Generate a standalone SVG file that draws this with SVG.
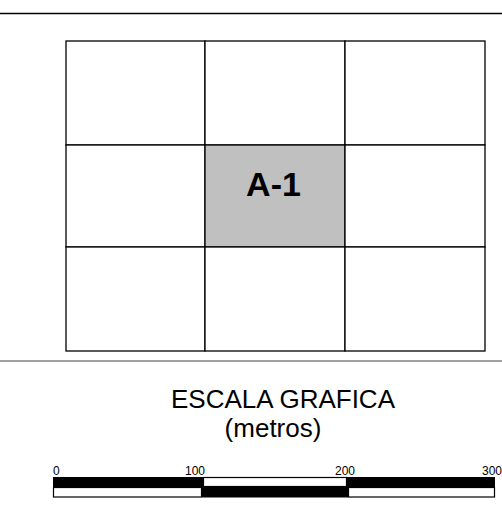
<svg xmlns="http://www.w3.org/2000/svg" width="502" height="505" viewBox="0 0 502 505">
<style>
.cell{fill:#fff;stroke:#000;stroke-width:1.3}
.sel{fill:#c0c0c0;stroke:#000;stroke-width:1.3}
.rule{stroke:#000;stroke-width:1.3}
.lbl{font-family:"Liberation Sans",Arial,sans-serif;fill:#000}
.blk{fill:#000}
.wht{fill:#fff;stroke:#000;stroke-width:1.2}
</style>
<rect width="502" height="505" fill="#fff"/>
<g id="frame-lines">
<line class="rule" x1="0" y1="13.5" x2="502" y2="13.5"/>
<line x1="0" y1="361" x2="502" y2="361" stroke="#444" stroke-width="1.2"/>
</g>
<g id="grid">
<g id="cell-r1c1"><rect class="cell" x="66" y="41" width="139" height="104"/></g>
<g id="cell-r1c2"><rect class="cell" x="205" y="41" width="140" height="104"/></g>
<g id="cell-r1c3"><rect class="cell" x="345" y="41" width="140" height="104"/></g>
<g id="cell-r2c1"><rect class="cell" x="66" y="145" width="139" height="102"/></g>
<g id="cell-A-1"><rect class="sel" x="205" y="145" width="140" height="102"/>
<text class="lbl" x="273.5" y="195.5" font-size="34" font-weight="bold" text-anchor="middle">A-1</text></g>
<g id="cell-r2c3"><rect class="cell" x="345" y="145" width="140" height="102"/></g>
<g id="cell-r3c1"><rect class="cell" x="66" y="247" width="139" height="104"/></g>
<g id="cell-r3c2"><rect class="cell" x="205" y="247" width="140" height="104"/></g>
<g id="cell-r3c3"><rect class="cell" x="345" y="247" width="140" height="104"/></g>
</g>
<g id="scale-title">
<text class="lbl" x="283" y="408" font-size="26" text-anchor="middle">ESCALA GRAFICA</text>
<text class="lbl" x="273" y="437" font-size="26" text-anchor="middle">(metros)</text>
</g>
<g id="scale-bar">
<rect class="blk" x="53" y="477" width="150" height="10"/>
<rect class="wht" x="203.5" y="477.5" width="143" height="9"/>
<rect class="blk" x="347" y="477" width="148" height="10"/>
<rect class="wht" x="53.5" y="487.5" width="148" height="9.5"/>
<rect class="blk" x="202" y="487" width="146" height="10.5"/>
<rect class="wht" x="348.5" y="487.5" width="146" height="9.5"/>
<text class="lbl" x="53" y="475" font-size="12">0</text>
<text class="lbl" x="185" y="475" font-size="12">100</text>
<text class="lbl" x="335" y="475" font-size="12">200</text>
<text class="lbl" x="482" y="475" font-size="12">300</text>
</g>
</svg>
